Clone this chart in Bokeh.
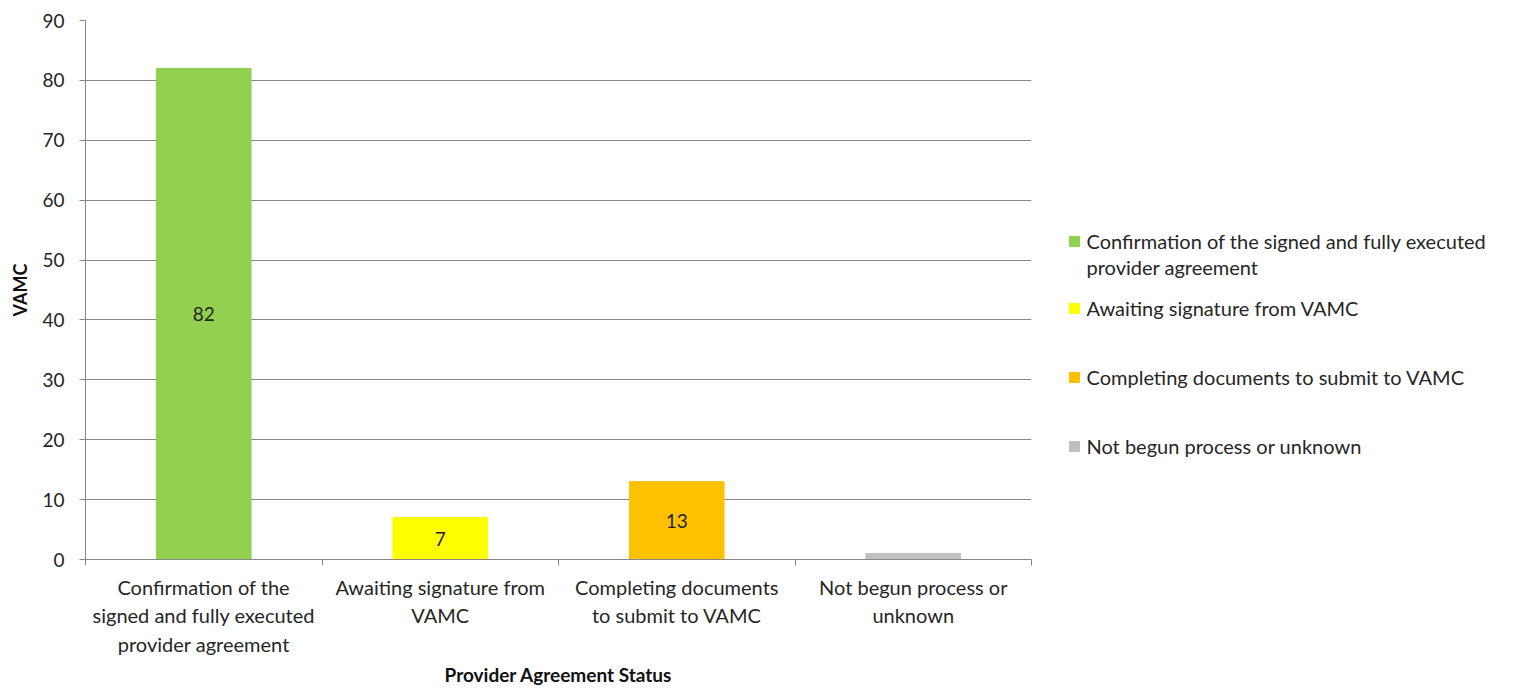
from bokeh.plotting import figure
from bokeh.layouts import row
from bokeh.models import ColumnDataSource, FixedTicker, Range1d
from bokeh.core.properties import value
from bokeh.embed import file_html
from bokeh.resources import INLINE

# Provider agreement status counts
categories = [
    "Confirmation of the signed and fully executed provider agreement",
    "Awaiting signature from VAMC",
    "Completing documents to submit to VAMC",
    "Not begun process or unknown",
]
axis_labels = [
    "Confirmation of the\nsigned and fully executed\nprovider agreement",
    "Awaiting signature from\nVAMC",
    "Completing documents\nto submit to VAMC",
    "Not begun process or\nunknown",
]
legend_labels = [
    "Confirmation of the signed and fully executed\nprovider agreement",
    "Awaiting signature from VAMC",
    "Completing documents to submit to VAMC",
    "Not begun process or unknown",
]
counts = [82, 7, 13, 1]
show_label = [True, True, True, False]
colors = ["#92D050", "#FFFF00", "#FFC000", "#BFBFBF"]
y_ticks = list(range(0, 91, 10))

FONT = "Lato"
TEXT = "#262626"
GRID = "#888888"
TOP, BOTTOM = 20, 130
H = 689

centers = [i + 0.5 for i in range(len(categories))]
src = ColumnDataSource(dict(x=centers, top=counts, color=colors))

p = figure(
    width=1040, height=H,
    x_range=Range1d(0, len(categories)), y_range=Range1d(0, 90),
    output_backend="svg", toolbar_location=None,
    min_border_left=85, min_border_right=9, min_border_top=TOP, min_border_bottom=BOTTOM,
)
p.outline_line_color = None
p.background_fill_color = "white"
p.border_fill_color = "white"

p.vbar(x="x", top="top", width=0.4, color="color", source=src)

lab_x = [c for c, s in zip(centers, show_label) if s]
lab_y = [v / 2 for v, s in zip(counts, show_label) if s]
lab_t = [str(v) for v, s in zip(counts, show_label) if s]
p.text(x=lab_x, y=lab_y, text=lab_t, text_align="center", text_baseline="middle",
       text_font=value(FONT), text_font_size="19px", text_color=TEXT)

# x axis: labels at bar centers, tick marks at category boundaries
p.xaxis.ticker = FixedTicker(ticks=centers, minor_ticks=list(range(len(categories) + 1)))
p.xaxis.major_label_overrides = {c: l for c, l in zip(centers, axis_labels)}
p.xaxis.major_tick_out = 0
p.xaxis.major_tick_in = 0
p.xaxis.minor_tick_out = 6
p.xaxis.minor_tick_in = 0
p.xaxis.minor_tick_line_color = GRID
p.xaxis.axis_line_color = GRID
p.xaxis.major_label_text_font = FONT
p.xaxis.major_label_text_font_size = "20px"
p.xaxis.major_label_text_color = TEXT
p.xaxis.major_label_standoff = 9
p.xaxis.axis_label = "Provider Agreement Status"
p.xaxis.axis_label_text_font = FONT
p.xaxis.axis_label_text_font_size = "19px"
p.xaxis.axis_label_text_font_style = "bold"
p.xaxis.axis_label_text_color = "#111111"
p.xaxis.axis_label_standoff = 4

p.yaxis.ticker = FixedTicker(ticks=y_ticks)
p.yaxis.minor_tick_line_color = None
p.yaxis.major_tick_out = 6
p.yaxis.major_tick_in = 0
p.yaxis.major_tick_line_color = GRID
p.yaxis.axis_line_color = GRID
p.yaxis.major_label_text_font = FONT
p.yaxis.major_label_text_font_size = "19px"
p.yaxis.major_label_text_color = TEXT
p.yaxis.major_label_standoff = 15
p.yaxis.axis_label = "VAMC"
p.yaxis.axis_label_text_font = FONT
p.yaxis.axis_label_text_font_size = "18px"
p.yaxis.axis_label_text_font_style = "bold"
p.yaxis.axis_label_text_color = "#111111"
p.yaxis.axis_label_standoff = 8

p.xgrid.grid_line_color = None
p.ygrid.grid_line_color = GRID
p.ygrid.grid_line_width = 1

# legend panel; its frame lines up with the chart frame, y counted in page pixels
leg = figure(
    width=478, height=H,
    x_range=Range1d(0, 478), y_range=Range1d(H - BOTTOM, TOP),
    output_backend="svg", toolbar_location=None,
    min_border_left=0, min_border_right=0, min_border_top=TOP, min_border_bottom=BOTTOM,
    outline_line_color=None,
)
leg.axis.visible = False
leg.grid.visible = False
leg_y = [241, 308, 377, 446]
leg.rect(x=[34] * 4, y=leg_y, width=10, height=10, color=colors)
leg.text(x=[46] * 4, y=[y - 13 for y in leg_y], text=legend_labels,
         text_baseline="top", text_align="left", text_line_height=1.1,
         text_font=value(FONT), text_font_size="20px", text_color=TEXT)

layout = row(p, leg)
open("out.html", "w").write(file_html(layout, INLINE))
